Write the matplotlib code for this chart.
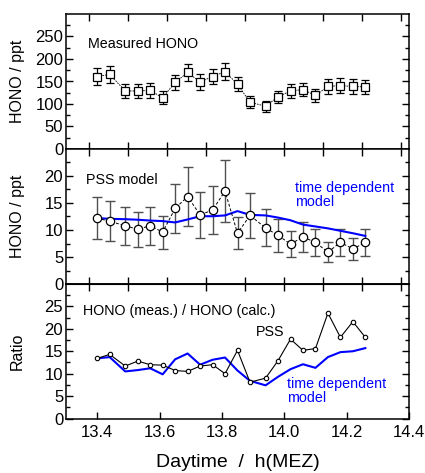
import matplotlib
matplotlib.use('Agg')
import matplotlib.pyplot as plt
import numpy as np

plt.rcParams['font.family'] = ['Liberation Sans', 'DejaVu Sans']

# -------------------------- data --------------------------
time_h = [13.40, 13.44, 13.49, 13.53, 13.57, 13.61, 13.65, 13.69, 13.73, 13.77, 13.81,
          13.85, 13.89, 13.94, 13.98, 14.02, 14.06, 14.10, 14.14, 14.18, 14.22, 14.26]

hono_meas = [161, 166, 129, 129, 130, 114, 148, 170, 149, 161, 172,
             144, 104, 95, 116, 129, 132, 119, 139, 141, 139, 138]
hono_meas_err = [18, 19, 16, 15, 16, 14, 17, 19, 17, 17, 19,
                 16, 13, 12, 13, 15, 15, 15, 16, 16, 16, 16]

hono_pss = [12.2, 11.6, 10.8, 10.1, 10.8, 9.6, 14.0, 16.2, 12.8, 13.7, 17.2,
            9.4, 12.7, 10.4, 9.0, 7.4, 8.7, 7.7, 5.9, 7.7, 6.5, 7.7]
hono_pss_err = [3.85, 3.7, 3.5, 3.3, 3.5, 3.05, 4.6, 5.4, 4.2, 4.5, 5.7,
                3.0, 4.2, 3.4, 3.0, 2.45, 2.85, 2.5, 1.85, 2.45, 2.1, 2.45]
hono_timedep = [12.2, 12.07, 12.0, 11.9, 11.75, 11.65, 11.4, 11.95, 12.55, 12.55, 12.7,
                13.5, 12.8, 12.7, 12.3, 11.8, 11.0, 10.65, 10.3, 9.85, 9.4, 8.9]

ratio_pss = [13.4, 14.3, 11.7, 12.8, 12.0, 11.9, 10.7, 10.5, 11.7, 12.0, 10.0,
             15.2, 8.1, 9.0, 12.9, 17.7, 15.2, 15.6, 23.5, 18.1, 21.6, 18.1]
ratio_timedep = [13.4, 13.7, 10.5, 10.8, 11.2, 9.85, 13.2, 14.5, 12.0, 13.1, 13.6,
                 10.7, 8.4, 7.4, 9.3, 11.0, 12.1, 11.3, 13.7, 14.8, 15.0, 15.7]

upper_xticks = [13.375, 13.5, 13.625, 13.75, 13.875, 14.0, 14.125, 14.25, 14.375]
bottom_xticks = [13.4, 13.6, 13.8, 14.0, 14.2, 14.4]
bottom_xticklabels = ['13.4', '13.6', '13.8', '14.0', '14.2', '14.4']

# -------------------------- figure --------------------------
fig = plt.figure(figsize=(4.25, 4.73), dpi=100)
left, width = 66 / 425, (409 - 66) / 425
def box(top_px, bot_px):
    return [left, 1 - bot_px / 473, width, (bot_px - top_px) / 473]

ax1 = fig.add_axes(box(14, 149))
ax2 = fig.add_axes(box(149, 284))
ax3 = fig.add_axes(box(284, 418.5))

blue = '#0000ff'
note_fs = 10.3

for ax in (ax1, ax2, ax3):
    ax.set_xlim(13.3, 14.4)
    for s in ax.spines.values():
        s.set_linewidth(1.1)
    ax.tick_params(which='both', direction='in', top=True, right=True, width=1.0)
    ax.tick_params(which='major', length=5, labelsize=12, pad=2)
    ax.tick_params(which='minor', length=2.8)

# panel 1: measured HONO
ax1.errorbar(time_h, hono_meas, yerr=hono_meas_err, fmt='s', ms=5.3, mfc='white', mec='black',
             mew=0.9, ecolor='black', elinewidth=0.9, capsize=3, capthick=0.9, zorder=3)
ax1.plot(time_h, hono_meas, color='black', lw=0.6, ls=(0, (2, 1.2)), zorder=2)
ax1.set_ylim(0, 300)
ax1.set_yticks([0, 50, 100, 150, 200, 250])
ax1.set_yticks(np.arange(25, 300, 50), minor=True)
ax1.set_ylabel('HONO / ppt', fontsize=11.5)
ax1.text(13.37, 233, 'Measured HONO', fontsize=note_fs, ha='left', va='center')

# panel 2: PSS model vs time dependent model
ax2.plot(time_h, hono_timedep, color=blue, lw=1.5, zorder=2)
ax2.errorbar(time_h, hono_pss, yerr=hono_pss_err, fmt='none', ecolor='#505050',
             elinewidth=1.0, capsize=3.5, capthick=1.0, zorder=1)
ax2.plot(time_h, hono_pss, color='black', lw=0.7, ls=(0, (3, 2)), marker='o', ms=6,
         mfc='white', mec='black', mew=0.9, zorder=3)
ax2.set_ylim(0, 25)
ax2.set_yticks([0, 5, 10, 15, 20])
ax2.set_yticks(np.arange(2.5, 25, 5), minor=True)
ax2.set_ylabel('HONO / ppt', fontsize=11.5)
ax2.text(13.363, 19.3, 'PSS model', fontsize=note_fs, ha='left', va='center')
ax2.text(14.035, 16.5, 'time dependent\nmodel', fontsize=note_fs, color=blue, ha='left',
         va='center', linespacing=1.05)

# panel 3: ratio
ax3.plot(time_h, ratio_timedep, color=blue, lw=1.5, zorder=2)
ax3.plot(time_h, ratio_pss, color='black', lw=0.8, marker='o', ms=3.2, mfc='white',
         mec='black', mew=0.8, zorder=3)
ax3.set_ylim(0, 30)
ax3.set_yticks([0, 5, 10, 15, 20, 25])
ax3.set_yticks(np.arange(2.5, 30, 5), minor=True)
ax3.set_ylabel('Ratio', fontsize=11.5)
ax3.text(13.356, 24.0, 'HONO (meas.) / HONO (calc.)', fontsize=note_fs, ha='left', va='center')
ax3.text(13.91, 19.3, 'PSS', fontsize=note_fs, ha='left', va='center')
ax3.text(14.009, 6.1, 'time dependent\nmodel', fontsize=note_fs, color=blue, ha='left',
         va='center', linespacing=1.05)

for ax in (ax1, ax2, ax3):
    ax.yaxis.set_label_coords(-0.12, 0.5)

# x ticks: upper panels share odd-spaced ticks, bottom axis labelled every 0.2 h
for ax in (ax1, ax2):
    ax.set_xticks(upper_xticks)
    ax.tick_params(axis='x', labelbottom=False)
ax3.set_xticks(bottom_xticks)
ax3.set_xticklabels(bottom_xticklabels)
ax3.tick_params(axis='x', top=False, pad=5)
ax3top = ax3.secondary_xaxis('top')
ax3top.set_xticks(upper_xticks)
ax3top.tick_params(direction='in', length=5, width=1.0, labeltop=False)
ax3.set_xlabel('Daytime  /  h(MEZ)', fontsize=14, labelpad=10)

fig.savefig('out.png', dpi=100)
